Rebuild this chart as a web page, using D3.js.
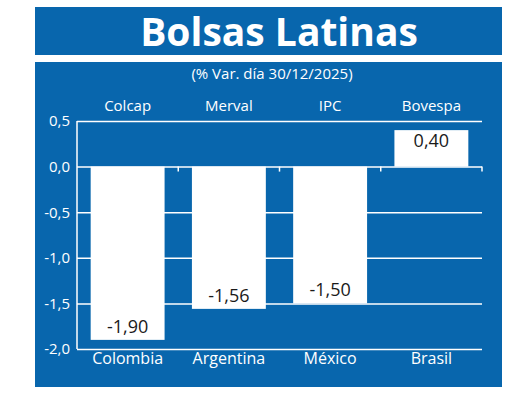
<!DOCTYPE html>
<html>
<head>
<meta charset="utf-8">
<script src="https://cdn.jsdelivr.net/npm/d3@7"></script>
<style>
  body { margin: 0; background: #fff; }
  svg { display: block; font-family: "Open Sans", sans-serif; }
</style>
</head>
<body>
<svg id="chart" width="520" height="410"></svg>
<script>
// data
let indices = ["Colcap", "Merval", "IPC", "Bovespa"];
let countries = ["Colombia", "Argentina", "México", "Brasil"];
let changes = [-1.90, -1.56, -1.50, 0.40];
let yTicks = [0.5, 0.0, -0.5, -1.0, -1.5, -2.0];

let blue = "#0866ad";
let es = d3.formatLocale({decimal: ",", thousands: ".", grouping: [3], currency: ["", ""], minus: "-"});
let fmt1 = es.format(".1f");
let fmt2 = es.format(".2f");

let svg = d3.select('#chart');

// title banner
svg.append('rect')
    .attr('x', 35).attr('y', 7)
    .attr('width', 467).attr('height', 48)
    .attr('fill', blue);
svg.append('text')
    .attr('x', 279).attr('y', 46)
    .attr('text-anchor', 'middle')
    .attr('fill', '#fff')
    .attr('font-size', 39)
    .attr('font-weight', 'bold')
    .text("Bolsas Latinas");

// chart panel
svg.append('rect')
    .attr('x', 35).attr('y', 62)
    .attr('width', 467).attr('height', 325)
    .attr('fill', blue);
svg.append('text')
    .attr('x', 272).attr('y', 79)
    .attr('text-anchor', 'middle')
    .attr('fill', '#fff')
    .attr('font-size', 15)
    .text("(% Var. día 30/12/2025)");

let scaleX = d3.scaleBand()
    .domain(countries)
    .range([77, 482])
    .paddingInner(0.27)
    .paddingOuter(0.135);
let scaleY = d3.scaleLinear()
    .domain([-2.0, 0.5])
    .range([349, 121]);

// grid + left axis
let yAxis = svg.append('g')
    .attr('transform', 'translate(77,0)')
    .call(d3.axisLeft(scaleY)
        .tickValues(yTicks)
        .tickSize(-405)
        .tickPadding(7)
        .tickFormat(fmt1));
yAxis.select('.domain').remove();
yAxis.selectAll('.tick line')
    .attr('stroke', '#fff')
    .attr('stroke-width', 1.5);
yAxis.selectAll('.tick text')
    .attr('fill', '#fff')
    .attr('font-size', 15)
    .attr('font-family', '"Open Sans", sans-serif');
svg.append('line')
    .attr('x1', 77).attr('x2', 77)
    .attr('y1', scaleY(0.5)).attr('y2', scaleY(-2.0))
    .attr('stroke', '#fff')
    .attr('stroke-width', 1.5);

// small ticks on the zero line between bands
svg.append('g').selectAll('line')
    .data(countries)
    .join('line')
    .attr('x1', d => scaleX(d) - scaleX.step() * scaleX.paddingInner() / 2 + scaleX.step())
    .attr('x2', d => scaleX(d) - scaleX.step() * scaleX.paddingInner() / 2 + scaleX.step())
    .attr('y1', scaleY(0))
    .attr('y2', scaleY(0) + 5)
    .attr('stroke', '#fff')
    .attr('stroke-width', 1.5);

// bars
let rows = countries.map((c, i) => ({country: c, index: indices[i], value: changes[i]}));
svg.append('g').selectAll('rect')
    .data(rows)
    .join('rect')
    .attr('x', d => scaleX(d.country))
    .attr('width', scaleX.bandwidth())
    .attr('y', d => scaleY(Math.max(0, d.value)))
    .attr('height', d => Math.abs(scaleY(d.value) - scaleY(0)))
    .attr('fill', '#fff');

// value labels
svg.append('g').selectAll('text')
    .data(rows)
    .join('text')
    .attr('x', d => scaleX(d.country) + scaleX.bandwidth() / 2)
    .attr('y', d => d.value < 0 ? scaleY(d.value) - 7 : scaleY(d.value) + 17)
    .attr('text-anchor', 'middle')
    .attr('fill', '#1a1a1a')
    .attr('font-size', 18)
    .text(d => fmt2(d.value));

// index names on top
svg.append('g').selectAll('text')
    .data(rows)
    .join('text')
    .attr('x', d => scaleX(d.country) + scaleX.bandwidth() / 2)
    .attr('y', 111)
    .attr('text-anchor', 'middle')
    .attr('fill', '#fff')
    .attr('font-size', 15)
    .text(d => d.index);

// country names at the bottom
svg.append('g').selectAll('text')
    .data(rows)
    .join('text')
    .attr('x', d => scaleX(d.country) + scaleX.bandwidth() / 2)
    .attr('y', 364)
    .attr('text-anchor', 'middle')
    .attr('fill', '#fff')
    .attr('font-size', 16)
    .text(d => d.country);
</script>
</body>
</html>
